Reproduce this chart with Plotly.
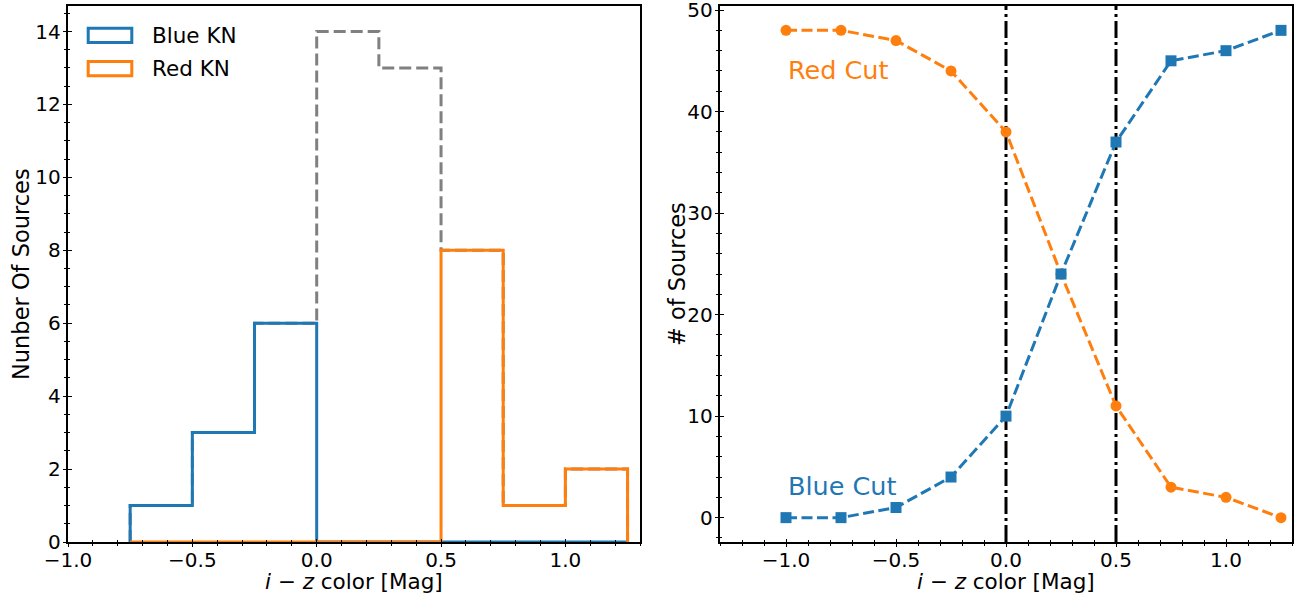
import plotly.graph_objects as go

# ---- data -------------------------------------------------------------
# histogram of i-z colours (bin edges and per-bin counts)
bin_edges = [-0.75, -0.5, -0.25, 0.0, 0.25, 0.5, 0.75, 1.0, 1.25]
all_counts = [1, 3, 6, 14, 13, 8, 1, 2]
blue_kn_counts = [1, 3, 6, 0, 0, 0, 0, 0]
red_kn_counts = [0, 0, 0, 0, 0, 8, 1, 2]

# number of sources surviving each colour cut
color_cuts = [-1.0, -0.75, -0.5, -0.25, 0.0, 0.25, 0.5, 0.75, 1.0, 1.25]
red_cut_sources = [48, 48, 47, 44, 38, 24, 11, 3, 2, 0]
blue_cut_sources = [0, 0, 1, 4, 10, 24, 37, 45, 46, 48]
cut_lines = [0.0, 0.5]

legend_labels = ["Blue KN", "Red KN"]
curve_labels = ["Red Cut", "Blue Cut"]
x_title = "<i>i</i> − <i>z</i> color [Mag]"
y_titles = ["Nunber Of Sources", "# of Sources"]

BLUE = "#1f77b4"
ORANGE = "#ff7f0e"
GRAY = "#808080"
FONT = "DejaVu Sans"

W, H = 1294, 593


def step_xy(edges, counts):
    """Outline of an unfilled step histogram (matplotlib histtype='step')."""
    xs = [edges[0]] + list(edges[:-1]) + [edges[-1]]
    ys = [0] + list(counts) + [0]
    return xs, ys


def px(x):
    return x / W


def py(y):
    return 1 - y / H


fig = go.Figure()

# ---- left panel: histograms -----------------------------------------
for counts, color, dash in [
    (all_counts, GRAY, "12px,5px"),
    (blue_kn_counts, BLUE, None),
    (red_kn_counts, ORANGE, None),
]:
    xs, ys = step_xy(bin_edges, counts)
    fig.add_trace(go.Scatter(
        x=xs, y=ys, mode="lines", line_shape="hv",
        line=dict(color=color, width=3, dash=dash),
        xaxis="x", yaxis="y", showlegend=False, hoverinfo="skip"))

# ---- right panel: cut curves ----------------------------------------
for xc in cut_lines:
    fig.add_shape(type="line", xref="x2", yref="y2 domain",
                  x0=xc, x1=xc, y0=0, y1=1, layer="below",
                  line=dict(color="black", width=3, dash="17px,4px,3px,4px"))

fig.add_trace(go.Scatter(
    x=color_cuts, y=red_cut_sources, mode="lines+markers",
    line=dict(color=ORANGE, width=3, dash="11px,4.5px"),
    marker=dict(symbol="circle", size=11, color=ORANGE),
    xaxis="x2", yaxis="y2", showlegend=False, hoverinfo="skip"))
fig.add_trace(go.Scatter(
    x=color_cuts, y=blue_cut_sources, mode="lines+markers",
    line=dict(color=BLUE, width=3, dash="11px,4.5px"),
    marker=dict(symbol="square", size=11, color=BLUE),
    xaxis="x2", yaxis="y2", showlegend=False, hoverinfo="skip"))

fig.add_annotation(x=-1.0, y=44.1, xref="x2", yref="y2", text=curve_labels[0],
                   showarrow=False, xanchor="left", yanchor="middle",
                   font=dict(family=FONT, size=25.5, color=ORANGE))
fig.add_annotation(x=-1.0, y=3.1, xref="x2", yref="y2", text=curve_labels[1],
                   showarrow=False, xanchor="left", yanchor="middle",
                   font=dict(family=FONT, size=25.5, color=BLUE))

# ---- legend for the histograms (outlined patches) -------------------
for i, (label, color) in enumerate(zip(legend_labels, [BLUE, ORANGE])):
    top = 28.2 + i * 33.3
    fig.add_shape(type="rect", xref="paper", yref="paper",
                  x0=px(88.2), x1=px(131.8), y0=py(top), y1=py(top + 14.3),
                  line=dict(color=color, width=3), fillcolor="rgba(0,0,0,0)")
    fig.add_annotation(x=px(150), y=py(top + 7.1), xref="paper", yref="paper",
                       text=label, showarrow=False, xanchor="left",
                       yanchor="middle",
                       font=dict(family=FONT, size=21.5, color="black"))

# ---- axis titles ----------------------------------------------------
titlefont = dict(family=FONT, size=21.5, color="black")
for xc in [354, 1006]:
    fig.add_annotation(x=px(xc), y=py(581), xref="paper", yref="paper",
                       text=x_title, showarrow=False, xanchor="center",
                       yanchor="middle", font=titlefont)
for xc, label in zip([21, 677], y_titles):
    fig.add_annotation(x=px(xc), y=py(274), xref="paper", yref="paper",
                       text=label, showarrow=False, textangle=-90,
                       xanchor="center", yanchor="middle",
                       font=dict(family=FONT, size=22.5, color="black"))

# ---- axes -----------------------------------------------------------
dom_y = [py(542), py(6)]
dom_x1 = [px(68), px(640)]
dom_x2 = [px(720), px(1292)]
tickfont = dict(family=FONT, size=20, color="black")


def base_axis(rng, dtick, minor_dtick, dom, anchor, tickformat, standoff):
    return dict(
        domain=dom, anchor=anchor, range=rng, autorange=False,
        tick0=0, dtick=dtick, tickformat=tickformat,
        ticks="outside", ticklen=3.5, tickwidth=1.3, tickcolor="black",
        minor=dict(ticks="outside", ticklen=2, tickwidth=1, tickcolor="black",
                   dtick=minor_dtick, tick0=0, showgrid=False),
        showline=True, linecolor="black", linewidth=1.5, mirror=True,
        showgrid=False, zeroline=False, tickfont=tickfont,
        ticklabelstandoff=standoff, ticklabeloverflow="allow",
        automargin=False,
    )


def inner_axis(rng, dtick, minor_dtick, overlay, anchor):
    return dict(
        overlaying=overlay, anchor=anchor, range=rng, autorange=False,
        tick0=0, dtick=dtick,
        ticks="inside", ticklen=3.5, tickwidth=1.3, tickcolor="black",
        minor=dict(ticks="inside", ticklen=2, tickwidth=1, tickcolor="black",
                   dtick=minor_dtick, tick0=0, showgrid=False),
        showline=False, showgrid=False, zeroline=False, showticklabels=False,
        automargin=False,
    )


x1_range = [-1.0, 1.3]
y1_range = [0, 14.7]
x2_range = [-1.3, 1.3]
y2_range = [-2.4, 50.4]

fig.update_layout(
    width=W, height=H,
    margin=dict(l=0, r=0, t=0, b=0),
    paper_bgcolor="white", plot_bgcolor="white",
    showlegend=False,
    font=dict(family=FONT, color="black"),
    xaxis=base_axis(x1_range, 0.5, 0.1, dom_x1, "y", ".1f", -4),
    yaxis=base_axis(y1_range, 2, 0.5, dom_y, "x", "d", -2),
    xaxis2=base_axis(x2_range, 0.5, 0.1, dom_x2, "y2", ".1f", -4),
    yaxis2=base_axis(y2_range, 10, 2, dom_y, "x2", "d", -2),
    xaxis3=inner_axis(x1_range, 0.5, 0.1, "x", "y3"),
    yaxis3=inner_axis(y1_range, 2, 0.5, "y", "x3"),
    xaxis4=inner_axis(x2_range, 0.5, 0.1, "x2", "y4"),
    yaxis4=inner_axis(y2_range, 10, 2, "y2", "x4"),
)

# empty traces so the inward-tick overlay subplots are created
fig.add_trace(go.Scatter(x=[], y=[], xaxis="x3", yaxis="y3",
                         showlegend=False, hoverinfo="skip"))
fig.add_trace(go.Scatter(x=[], y=[], xaxis="x4", yaxis="y4",
                         showlegend=False, hoverinfo="skip"))

fig.write_html("out.html", config=dict(displayModeBar=False))
